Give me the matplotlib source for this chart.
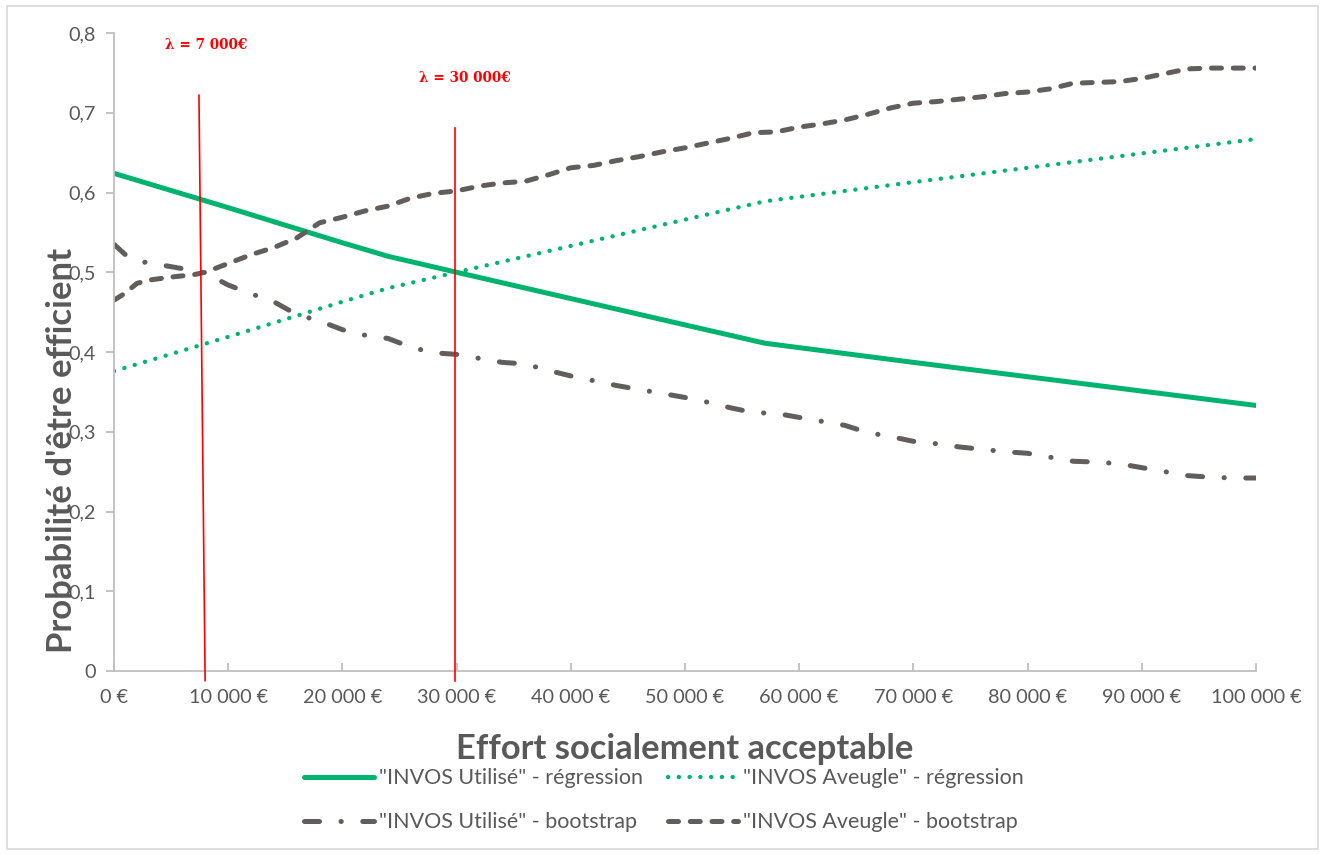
import matplotlib
matplotlib.use("Agg")
import matplotlib.pyplot as plt
from matplotlib.ticker import FuncFormatter
from matplotlib.patches import Rectangle

plt.rcParams['font.family'] = ['Lato', 'DejaVu Sans']

# ---- data -------------------------------------------------------------
# Willingness-to-pay grid (EUR)
reg_x = [0, 10000, 20000, 24000, 30000, 40000, 50000, 57000,
         70000, 80000, 90000, 100000]
used_regression = [0.624, 0.581, 0.537, 0.520, 0.500, 0.467, 0.434, 0.411,
                   0.387, 0.369, 0.351, 0.333]
blind_regression = [0.376, 0.419, 0.463, 0.480, 0.500, 0.533, 0.566, 0.589,
                    0.613, 0.631, 0.649, 0.667]

boot_x = [0, 1000, 2000, 3000, 5000, 7000, 8000, 10000, 12000, 14000,
          16000, 18000, 20000, 22000, 24000, 26000, 28000, 30000, 32000,
          34000, 36000, 38000, 40000, 42000, 44000, 46000, 48000, 50000,
          52000, 54000, 56000, 58000, 60000, 62000, 64000, 66000, 68000,
          70000, 72000, 74000, 76000, 78000, 80000, 82000, 84000, 86000,
          88000, 90000, 92000, 94000, 96000, 98000, 100000]
used_bootstrap = [0.535, 0.522, 0.514, 0.512, 0.507, 0.502, 0.499, 0.484,
                  0.473, 0.463, 0.447, 0.439, 0.428, 0.421, 0.417, 0.406,
                  0.399, 0.397, 0.392, 0.387, 0.385, 0.377, 0.370, 0.364,
                  0.358, 0.353, 0.348, 0.343, 0.337, 0.330, 0.324, 0.323,
                  0.318, 0.313, 0.308, 0.299, 0.294, 0.288, 0.285, 0.281,
                  0.278, 0.275, 0.273, 0.268, 0.263, 0.262, 0.260, 0.255,
                  0.250, 0.245, 0.243, 0.242, 0.242]
blind_bootstrap = [0.465, 0.474, 0.486, 0.490, 0.494, 0.497, 0.500, 0.511,
                   0.522, 0.531, 0.543, 0.562, 0.569, 0.577, 0.583, 0.593,
                   0.599, 0.602, 0.608, 0.612, 0.614, 0.622, 0.631, 0.634,
                   0.640, 0.645, 0.651, 0.656, 0.662, 0.668, 0.675, 0.676,
                   0.682, 0.686, 0.691, 0.698, 0.706, 0.712, 0.714, 0.717,
                   0.720, 0.724, 0.726, 0.730, 0.737, 0.738, 0.739, 0.743,
                   0.749, 0.755, 0.756, 0.756, 0.756]

series_labels = ['"INVOS Utilisé" - régression', '"INVOS Aveugle" - régression',
                 '"INVOS Utilisé" - bootstrap', '"INVOS Aveugle" - bootstrap']

# thresholds (lambda) shown as reference lines
lambda_labels = ['λ = 7 000€', 'λ = 30 000€']

x_ticks = list(range(0, 100001, 10000))
y_ticks = [0, 0.1, 0.2, 0.3, 0.4, 0.5, 0.6, 0.7, 0.8]

# ---- style ------------------------------------------------------------
GREEN = '#00b36e'
GREY = '#625e5b'
TEXT = '#595959'
AXIS = '#bfbfbf'

fig = plt.figure(figsize=(13.24, 8.55), dpi=100)
ax = fig.add_axes([0.0861, 0.2152, 0.8625, 0.7462])

l1, = ax.plot(reg_x, used_regression, color=GREEN, lw=3.6,
              solid_capstyle='round', solid_joinstyle='round')
l2, = ax.plot(reg_x, blind_regression, color=GREEN, lw=3.1,
              linestyle=(0, (0.05, 2.45)), dash_capstyle='round')
l3, = ax.plot(boot_x, used_bootstrap, color=GREY, lw=3.6,
              linestyle=(0, (3.0, 4.3, 0.05, 4.3)), dash_capstyle='round',
              dash_joinstyle='round')
l4, = ax.plot(boot_x, blind_bootstrap, color=GREY, lw=3.6,
              linestyle=(0, (2.0, 2.35)), dash_capstyle='round',
              dash_joinstyle='round')

# lambda reference lines and their annotations
ax.plot([7440, 7980], [0.722, -0.012], color='red', lw=1.2, clip_on=False,
        zorder=5)
ax.plot([29850, 29850], [0.681, -0.012], color='red', lw=1.2, clip_on=False,
        zorder=5)
ax.text(8060, 0.785, lambda_labels[0], color='red', fontsize=9.8,
        fontweight='bold', family=['DejaVu Serif'], ha='center',
        va='center')
ax.text(30740, 0.744, lambda_labels[1], color='red', fontsize=9.8,
        fontweight='bold', family=['DejaVu Serif'], ha='center',
        va='center')

# axes
ax.set_xlim(0, 100000)
ax.set_ylim(0, 0.8)
ax.set_xticks(x_ticks)
ax.set_yticks(y_ticks)
ax.xaxis.set_major_formatter(FuncFormatter(
    lambda v, p: f"{int(round(v)):,} €".replace(',', ' ')))
ax.yaxis.set_major_formatter(FuncFormatter(
    lambda v, p: "0" if abs(v) < 1e-9 else f"{v:.1f}".replace('.', ',')))

for side in ('top', 'right'):
    ax.spines[side].set_visible(False)
for side in ('left', 'bottom'):
    ax.spines[side].set_color(AXIS)
    ax.spines[side].set_linewidth(1.3)

ax.tick_params(axis='x', direction='in', length=6, width=1.3, color=AXIS,
               labelsize=14.3, labelcolor=TEXT, pad=13)
ax.tick_params(axis='y', direction='out', length=6, width=1.3, color=AXIS,
               labelsize=14.3, labelcolor=TEXT, pad=7)

ax.set_xlabel('Effort socialement acceptable', fontsize=24.8,
              fontweight='bold', color=TEXT)
ax.xaxis.set_label_coords(0.5, -0.122)
ax.xaxis.label.set_va('center')
ax.set_ylabel("Probabilité d'être efficient", fontsize=25,
              fontweight='bold', color=TEXT)
ax.yaxis.set_label_coords(-0.0455, 0.345)
ax.yaxis.label.set_va('center')

leg = fig.legend([l1, l3, l2, l4],
                 [series_labels[0], series_labels[2],
                  series_labels[1], series_labels[3]],
                 ncol=2, loc='center', bbox_to_anchor=(0.5015, 0.064),
                 frameon=False, fontsize=15.5, labelcolor=TEXT,
                 handlelength=3.25, handletextpad=0.25, columnspacing=1.15,
                 labelspacing=1.1)

# chart-area border
fig.patches.append(Rectangle((7 / 1324, 6 / 855), 1311 / 1324, 843 / 855,
                             transform=fig.transFigure, fill=False,
                             edgecolor='#d9d9d9', lw=1.2))

fig.savefig('out.png', dpi=100)
